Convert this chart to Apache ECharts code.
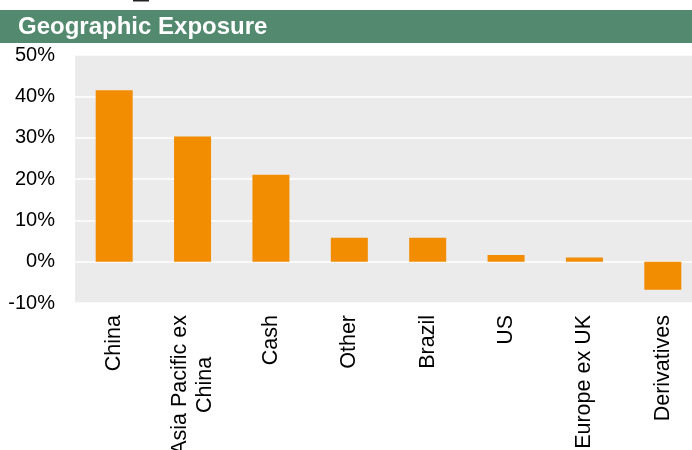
<!DOCTYPE html>
<html>
<head>
<meta charset="utf-8">
<script src="https://cdn.jsdelivr.net/npm/echarts@6/dist/echarts.min.js"></script>
<style>
  html, body { margin: 0; padding: 0; background: #ffffff; }
  #chart { width: 692px; height: 450px; }
</style>
</head>
<body>
<div id="chart"></div>
<script>
// Regions and their share of the portfolio (%)
const regions = ['China', 'Asia Pacific ex\nChina', 'Cash', 'Other', 'Brazil', 'US', 'Europe ex UK', 'Derivatives'];
const exposure = [41.5, 30.3, 21.0, 5.8, 5.8, 1.6, 1.0, -6.8];

// Value axis range and step (%)
const axisMin = -10;
const axisMax = 50;
const axisStep = 10;

const chart = echarts.init(document.getElementById('chart'), null, { renderer: 'canvas' });

const font = '"Liberation Sans", Arial, sans-serif';

chart.setOption({
  animation: false,
  backgroundColor: '#ffffff',
  graphic: [
    {
      // short dark stroke at the very top edge
      type: 'rect',
      shape: { x: 133, y: 0, width: 16, height: 1.5 },
      style: { fill: '#222222' },
      silent: true
    },
    {
      type: 'rect',
      shape: { x: 0, y: 10, width: 692, height: 33 },
      style: { fill: '#52896f' },
      silent: true
    },
    {
      type: 'text',
      x: 18,
      y: 27,
      style: {
        text: 'Geographic Exposure',
        fill: '#ffffff',
        font: 'bold 24px ' + font,
        verticalAlign: 'middle'
      },
      silent: true
    }
  ],
  grid: {
    left: 75,
    top: 55,
    width: 627,
    height: 248,
    show: true,
    backgroundColor: '#ebebeb',
    borderWidth: 0,
    containLabel: false,
    outerBoundsMode: 'none'
  },
  xAxis: {
    type: 'category',
    data: regions,
    axisLine: { show: false },
    axisTick: { show: false },
    axisLabel: {
      rotate: 90,
      margin: 12,
      interval: 0,
      color: '#000000',
      fontFamily: font,
      fontSize: 21.5,
      lineHeight: 25,
      formatter: function (v) {
        return v.split('\n').map(function (s) { return '{c|' + s + '}'; }).join('\n');
      },
      rich: {
        c: {
          align: 'center',
          color: '#000000',
          fontFamily: font,
          fontSize: 21.5,
          lineHeight: 25
        }
      }
    }
  },
  yAxis: {
    type: 'value',
    min: axisMin,
    max: axisMax,
    interval: axisStep,
    axisLine: { show: false },
    axisTick: { show: false },
    axisLabel: {
      margin: 20,
      color: '#000000',
      fontFamily: font,
      fontSize: 20,
      formatter: '{value}%'
    },
    splitLine: {
      show: true,
      lineStyle: { color: '#ffffff', width: 1.5 }
    }
  },
  series: [
    {
      type: 'bar',
      data: exposure,
      barWidth: 37,
      itemStyle: { color: '#f28c00' }
    }
  ]
});
</script>
</body>
</html>
